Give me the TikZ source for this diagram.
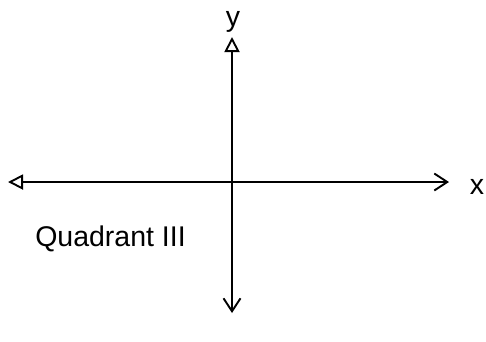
\documentclass[tikz,border=0pt]{standalone}
\usepackage{fontspec}
\setmainfont{Liberation Sans}
\usetikzlibrary{arrows.meta}

\begin{document}
\begin{tikzpicture}[x=1pt, y=-1pt,
  axis/.style={line width=1.9pt, color=black},
  lbl/.style={font=\fontsize{28.5}{32}\selectfont, inner sep=0pt}
]
\useasboundingbox (0,0) rectangle (486,341);
\coordinate (o)  at (232,182);
\coordinate (xl) at (8,182);
\coordinate (xr) at (449,182);
\coordinate (yt) at (232,37);
\coordinate (yb) at (232,313);

\node[lbl] (xlab) at (477,187) {x};
\node[lbl] (ylab) at (233,22) {y};
\node[lbl] (quad) at (110.5,239) {Quadrant III};

\draw[axis, {Triangle[open,length=15pt,width=15pt]}-{Straight Barb[length=13pt,width=17pt]}] (xl) -- (xr);
\draw[axis, {Straight Barb[length=13pt,width=17pt]}-{Triangle[open,length=15pt,width=15pt]}] (yb) -- (yt);
\end{tikzpicture}
\end{document}
